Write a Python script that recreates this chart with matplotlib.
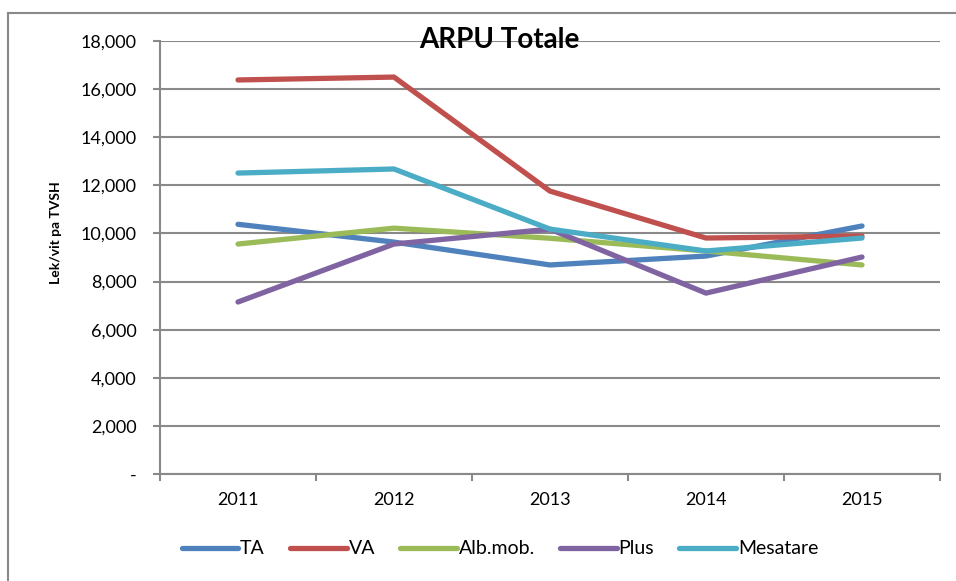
import matplotlib
matplotlib.use('Agg')
from matplotlib import pyplot as plt
from matplotlib.lines import Line2D
import numpy as np

plt.rcParams['font.family'] = ['Lato', 'DejaVu Sans']

years = ['2011', '2012', '2013', '2014', '2015']
ta = [10380, 9640, 8690, 9060, 10310]
va = [16380, 16500, 11760, 9810, 9890]
albmob = [9560, 10220, 9800, 9270, 8690]
plus = [7150, 9560, 10180, 7520, 9020]
mesatare = [12510, 12680, 10180, 9270, 9810]

series = [('TA', ta, '#4F81BD'), ('VA', va, '#C0504D'),
          ('Alb.mob.', albmob, '#9BBB59'), ('Plus', plus, '#8064A2'),
          ('Mesatare', mesatare, '#4BACC6')]

grey = '#898989'
fig = plt.figure(figsize=(9.56, 5.81), dpi=100)
ax = fig.add_axes([160/956, 1-474/581, 780/956, 433/581])

x = np.arange(len(years))
for name, vals, col in series:
    ax.plot(x, vals, color=col, lw=3.8, label=name, solid_capstyle='round')

ax.set_xlim(-0.5, len(years) - 0.5)
ax.set_ylim(0, 18000)
yt = np.arange(0, 18001, 2000)
ax.set_yticks(yt)
ax.set_yticklabels(['-' if v == 0 else f'{v:,}' for v in yt], fontsize=13)
ax.set_xticks(x)
ax.set_xticklabels(years, fontsize=13)
ax.set_xticks(np.arange(-0.5, len(years)), minor=True)
ax.tick_params(axis='x', which='major', length=0, pad=13)
ax.tick_params(axis='x', which='minor', length=5, color=grey, width=1.5)
ax.tick_params(axis='y', length=5, color=grey, width=1.5, pad=12)
ax.yaxis.grid(True, color=grey, lw=1.5)
ax.set_axisbelow(True)
for s in ['top', 'right']:
    ax.spines[s].set_visible(False)
for s in ['left', 'bottom']:
    ax.spines[s].set_color(grey)
    ax.spines[s].set_linewidth(1.5)

ax.set_ylabel('Lek/vit pa TVSH', fontsize=10, fontweight='bold')
ax.yaxis.set_label_coords(-0.126, 0.557)
fig.text(499/956, 1-40/581, 'ARPU Totale', ha='center', va='center',
         fontsize=20, fontweight='bold')

fig.legend(loc='center', bbox_to_anchor=(500/956, 1-549/581), ncol=5,
           frameon=False, fontsize=14, handlelength=2.9, handletextpad=0.1,
           columnspacing=1.3)

# chart area border
fig.add_artist(Line2D([8/956, 1], [1-13/581, 1-13/581], color=grey, lw=1.5))
fig.add_artist(Line2D([8/956, 8/956], [0, 1-13/581], color=grey, lw=1.5))

fig.savefig('out.png', dpi=100)
